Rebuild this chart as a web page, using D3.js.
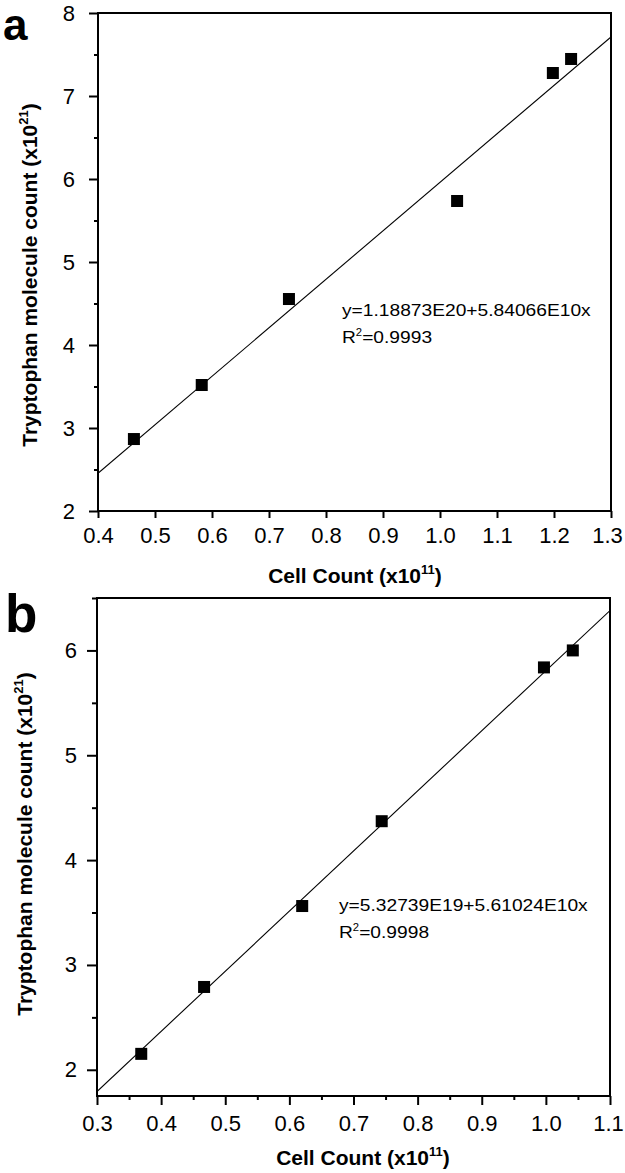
<!DOCTYPE html>
<html>
<head>
<meta charset="utf-8">
<script src="https://cdn.jsdelivr.net/npm/d3@7"></script>
<style>
  html, body { margin: 0; padding: 0; background: #fff; }
  svg { display: block; }
  text { font-family: "Liberation Sans", Arial, sans-serif; fill: #000; }
</style>
</head>
<body>
<svg id="chart" width="625" height="1173"></svg>
<script>
// ---------- Panel a data ----------
const cellCountA = [0.463, 0.582, 0.735, 1.030, 1.198, 1.230];
const tryptophanA = [2.867, 3.518, 4.554, 5.735, 7.277, 7.446];
const fitXA = [0.4, 1.3];
const fitYA = [2.455, 7.712];
const xTicksA = [0.4, 0.5, 0.6, 0.7, 0.8, 0.9, 1.0, 1.1, 1.2, 1.3];
const yTicksA = [2, 3, 4, 5, 6, 7, 8];
const yMinorA = [2.5, 3.5, 4.5, 5.5, 6.5, 7.5];
const xMinorA = [];
const equationA = "y=1.18873E20+5.84066E10x";
const r2A = "=0.9993";

// ---------- Panel b data ----------
const cellCountB = [0.369, 0.467, 0.620, 0.744, 0.997, 1.042];
const tryptophanB = [2.152, 2.790, 3.562, 4.371, 5.838, 6.000];
const fitXB = [0.3, 1.1];
const fitYB = [1.793, 6.38];
const xTicksB = [0.3, 0.4, 0.5, 0.6, 0.7, 0.8, 0.9, 1.0, 1.1];
const xMinorB = [0.35, 0.45, 0.55, 0.65, 0.75, 0.85, 0.95, 1.05];
const yTicksB = [2, 3, 4, 5, 6];
const yMinorB = [2.5, 3.5, 4.5, 5.5, 6.5];
const equationB = "y=5.32739E19+5.61024E10x";
const r2B = "=0.9998";

const svg = d3.select("#chart");
const TICK_FONT = 22;

function drawPanel(cfg) {
  const x = d3.scaleLinear().domain(cfg.xDomain).range([cfg.left, cfg.right]);
  const y = d3.scaleLinear().domain(cfg.yDomain).range([cfg.bottom, cfg.top]);
  const g = svg.append("g");

  // Minor ticks
  g.append("g").attr("transform", `translate(${cfg.left},0)`)
    .call(d3.axisLeft(y).tickValues(cfg.yMinor).tickFormat("").tickSize(cfg.yMinorLen).tickSizeOuter(0))
    .call(s => s.select(".domain").remove())
    .call(s => s.selectAll("line").attr("stroke-width", 2));
  if (cfg.xMinor.length) {
    g.append("g").attr("transform", `translate(0,${cfg.bottom})`)
      .call(d3.axisBottom(x).tickValues(cfg.xMinor).tickFormat("").tickSize(cfg.xMinorLen).tickSizeOuter(0))
      .call(s => s.select(".domain").remove())
      .call(s => s.selectAll("line").attr("stroke-width", 2));
  }

  // Major Y
  g.append("g").attr("transform", `translate(${cfg.left},0)`)
    .call(d3.axisLeft(y).tickValues(cfg.yTicks).tickFormat(d3.format("d")).tickSize(cfg.yTickLen).tickPadding(cfg.yPad).tickSizeOuter(0))
    .call(s => s.select(".domain").remove())
    .call(s => s.selectAll("line").attr("stroke-width", 2))
    .call(s => s.selectAll("text").attr("font-size", TICK_FONT));

  // Major X
  const nX = cfg.xTicks.length;
  g.append("g").attr("transform", `translate(0,${cfg.bottom})`)
    .call(d3.axisBottom(x).tickValues(cfg.xTicks).tickFormat(d3.format(".1f")).tickSize(cfg.xTickLen).tickPadding(cfg.xPad).tickSizeOuter(0))
    .call(s => s.select(".domain").remove())
    .call(s => s.selectAll("line").attr("stroke-width", 2))
    .call(s => s.selectAll("text").attr("font-size", TICK_FONT)
      .attr("dx", (d, i) => i === nX - 1 ? cfg.lastDx : 0));

  // Frame
  g.append("rect")
    .attr("x", x(cfg.xDomain[0])).attr("y", y(cfg.yDomain[1]))
    .attr("width", x(cfg.xDomain[1]) - x(cfg.xDomain[0]))
    .attr("height", y(cfg.yDomain[0]) - y(cfg.yDomain[1]))
    .attr("fill", "none").attr("stroke", "#000").attr("stroke-width", 2);

  // Clip
  const clipId = "clip" + cfg.name;
  svg.append("clipPath").attr("id", clipId).append("rect")
    .attr("x", cfg.left).attr("y", cfg.top)
    .attr("width", cfg.right - cfg.left).attr("height", cfg.bottom - cfg.top);

  // Fit line
  const fitData = cfg.fitX.map((v, i) => [v, cfg.fitY[i]]);
  g.append("path")
    .datum(fitData)
    .attr("clip-path", `url(#${clipId})`)
    .attr("d", d3.line().x(d => x(d[0])).y(d => y(d[1])))
    .attr("fill", "none").attr("stroke", "#000").attr("stroke-width", 1.1);

  // Points
  const pts = cfg.xs.map((v, i) => [v, cfg.ys[i]]);
  const s = 12;
  g.selectAll("rect.pt").data(pts).enter().append("rect")
    .attr("class", "pt")
    .attr("x", d => x(d[0]) - s / 2).attr("y", d => y(d[1]) - s / 2)
    .attr("width", s).attr("height", s).attr("fill", "#000");

  // Equation
  const eq = g.append("g").attr("transform", `translate(${cfg.eqX},${cfg.eqY}) scale(1.13,1)`);
  eq.append("text").attr("font-size", 17).text(cfg.eq);
  const r2 = eq.append("text").attr("y", 27).attr("font-size", 17);
  r2.append("tspan").text("R");
  r2.append("tspan").attr("font-size", 10).attr("dy", -7).text("2");
  r2.append("tspan").attr("dy", 7).text(cfg.r2);

  // X title
  const xt = g.append("text").attr("x", cfg.xTitleX).attr("y", cfg.xTitleY)
    .attr("text-anchor", "middle").attr("font-weight", "bold").attr("font-size", 21);
  xt.append("tspan").text("Cell Count (x10");
  xt.append("tspan").attr("font-size", 13).attr("dy", -9).text("11");
  xt.append("tspan").attr("dy", 9).text(")");

  // Y title
  const yt = g.append("text")
    .attr("transform", `translate(${cfg.yTitleX},${cfg.yTitleY}) rotate(-90)`)
    .attr("text-anchor", "middle").attr("font-weight", "bold").attr("font-size", 21);
  yt.append("tspan").text("Tryptophan molecule count (x10");
  yt.append("tspan").attr("font-size", 13).attr("dy", -9).text("21");
  yt.append("tspan").attr("dy", 9).text(")");

  // Panel label
  g.append("text").attr("x", cfg.labelX).attr("y", cfg.labelY)
    .attr("font-weight", "bold").attr("font-size", cfg.labelSize).text(cfg.name);
}

drawPanel({
  name: "a",
  xDomain: [0.4, 1.3], yDomain: [2, 8],
  left: 98, right: 611, top: 13, bottom: 511,
  xs: cellCountA, ys: tryptophanA, fitX: fitXA, fitY: fitYA,
  xTicks: xTicksA, yTicks: yTicksA, yMinor: yMinorA, xMinor: xMinorA,
  yTickLen: 9, yMinorLen: 4, xTickLen: 7, xMinorLen: 4, yPad: 14, xPad: 9, lastDx: -4,
  eq: equationA, r2: r2A, eqX: 342, eqY: 316,
  xTitleX: 355, xTitleY: 583, yTitleX: 37, yTitleY: 275,
  labelX: 3, labelY: 40, labelSize: 44
});

drawPanel({
  name: "b",
  xDomain: [0.3, 1.1], yDomain: [1.75, 6.5],
  left: 97, right: 610, top: 598, bottom: 1096,
  xs: cellCountB, ys: tryptophanB, fitX: fitXB, fitY: fitYB,
  xTicks: xTicksB, yTicks: yTicksB, yMinor: yMinorB, xMinor: xMinorB,
  yTickLen: 10, yMinorLen: 5, xTickLen: 9, xMinorLen: 4, yPad: 10, xPad: 10, lastDx: -2,
  eq: equationB, r2: r2B, eqX: 339, eqY: 911,
  xTitleX: 363, xTitleY: 1165, yTitleX: 32, yTitleY: 844,
  labelX: 5, labelY: 632, labelSize: 53
});
</script>
</body>
</html>
